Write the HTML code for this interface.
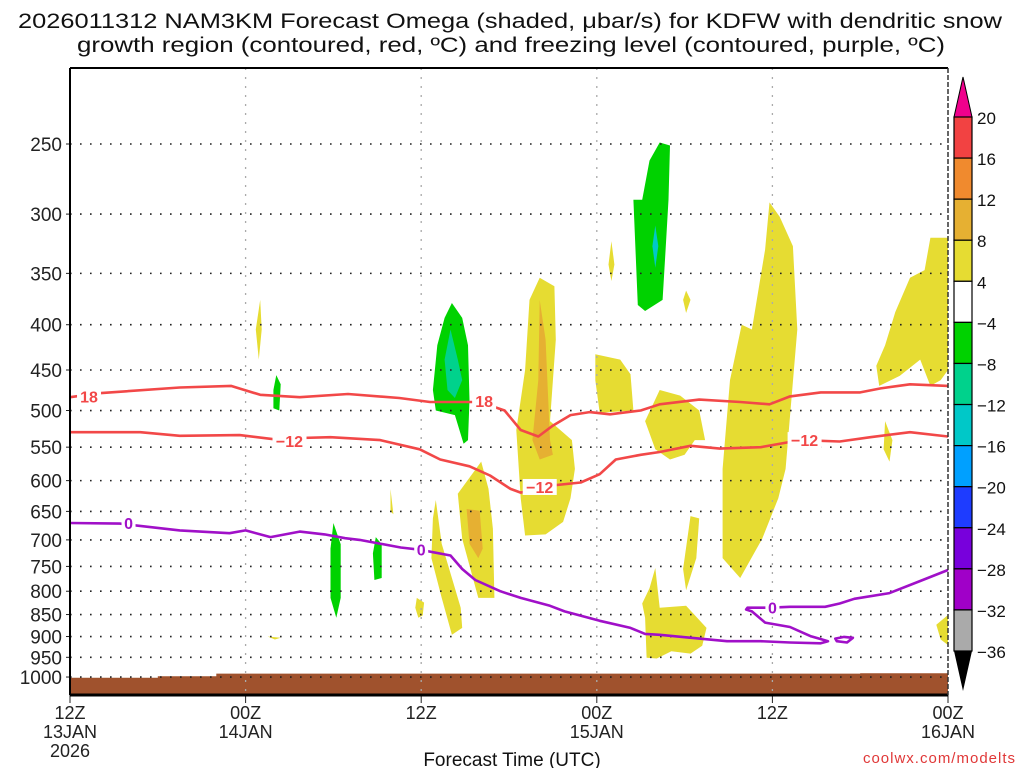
<!DOCTYPE html>
<html><head><meta charset="utf-8"><style>
html,body{margin:0;padding:0;background:#fff;}
svg{display:block;font-family:"Liberation Sans",sans-serif;}
</style></head><body>
<svg id="chart" width="1024" height="768" viewBox="0 0 1024 768" xmlns="http://www.w3.org/2000/svg">
<text x="18" y="28" font-size="21" fill="#111" textLength="984" lengthAdjust="spacingAndGlyphs">2026011312 NAM3KM Forecast Omega (shaded, μbar/s) for KDFW with dendritic snow</text>
<text x="77" y="52" font-size="21" fill="#111" textLength="868" lengthAdjust="spacingAndGlyphs">growth region (contoured, red, ºC) and freezing level (contoured, purple, ºC)</text>
<g id="plot"></g>
<text x="512" y="766" font-size="19" fill="#111" text-anchor="middle">Forecast Time (UTC)</text>
<text x="1016" y="763" font-size="15" fill="#e03838" text-anchor="end" letter-spacing="1">coolwx.com/modelts</text>
<g id="cbar"></g>
</svg>
<script>
// ---- data ----
const pressureTicks=[250,300,350,400,450,500,550,600,650,700,750,800,850,900,950,1000];
const timeTickHours=[0,12,24,36,48,60];
const timeTickLine1=["12Z","00Z","12Z","00Z","12Z","00Z"];
const timeTickLine2=["13JAN","14JAN","","15JAN","","16JAN"];
const timeTickLine3=["2026","","","","",""];
const cbarLevels=[20,16,12,8,4,-4,-8,-12,-16,-20,-24,-28,-32,-36];
const cbarColors=["#f24242","#f08a2e","#e6b032","#e6dc32","#ffffff","#00d200","#00d28c","#00c8c8","#00a0ff","#1e3cff","#7800dc","#a000c8","#aaaaaa"];
const terrainHours=[0,6,6,10,10,54,54,60];
const terrainP=[1002,1002,998,998,991,991,990,990];
const dgz18Hours=[0,2,7.5,11,13,15.7,19,22.5,24.6,28,29.7,30.8,32,33,34.2,35.5,36.9,39,40.3,43,45.8,47.8,49.2,51.3,54,55.4,57.4,60];
const dgz18P=[483,478,471,469,480,483,479,484,489,489,500,526,535,520,506,502,505,500,492,486,489,492,482,477,477,472,467,469];
const dgz12Hours=[0,4.8,7.5,11.6,14.4,15.7,17.8,21.2,23.9,25.3,27.3,28.7,30.1,30.8,32.8,34.9,36.2,37.3,39,40.3,42.4,44.4,47.2,49.9,52.6,54.7,57.4,60];
const dgz12P=[529,529,534,533,540,537,536,540,553,568,578,592,613,619,608,603,590,568,561,557,548,552,550,540,542,536,529,535];
const frzHours=[0,3.4,7.5,10.9,12,13.7,15.7,17.4,18.8,19.8,22.6,23.9,26,26.8,27.7,29.4,30.8,32.8,33.8,36.2,38.3,39.3,40.3,43,44.9,47.2,49.2,51.3,51.8,51.4,50.6,49.2,47.5,46.6,46.2,46.3,47.8,49.2,51.6,52.6,53.6,56,58.1,60];
const frzP=[670,671,683,688,683,695,685,690,697,700,714,718,729,755,777,800,814,831,843,864,880,894,896,905,911,911,914,916,911,907,899,878,868,843,839,835,835,833,833,826,816,804,779,757];
const frzLoopHours=[52.3,52.9,53.5,53.1,52.4];
const frzLoopP=[905,901,903,914,911];
// omega regions: [value-class, hours[], pressures[]]
const omegaRegions=[
 ["pos4",[26.1,26.8,27.2,27.3,27.2,26.9,26.3,25,24.8,25.1,25.6],[378,393,422,486,540,545,506,500,474,422,393],"neg4"],
];
const regionNames=["updraft-12z-14jan","updraft-15jan-upper"];
const negBlobs=[
 {h:[26.1,26.8,27.2,27.3,27.2,26.9,26.3,25,24.8,25.1,25.6],p:[378,393,422,486,540,545,506,500,474,422,393],c:5},
 {h:[26,26.5,26.8,26.3,25.8,25.6],p:[405,438,462,484,474,438],c:6},
 {h:[40.3,41,40.9,40.7,40.5,39.3,38.8,38.5,39.1,39.6],p:[249,251,289,329,375,386,380,289,289,261],c:5},
 {h:[40,40.2,40,39.8],p:[309,326,345,326],c:7},
 {h:[14.1,14.4,14.3,13.9,13.9],p:[456,467,500,497,474],c:5},
 {h:[18,18.5,18.5,18.2,17.8,17.8],p:[670,708,814,857,814,716],c:5},
 {h:[20.9,21.3,21.3,20.8,20.7],p:[695,708,773,777,725],c:5}
];
const posBlobs=[
 {h:[32.1,33.1,33.2,32.8,34.3,34.5,34.2,33.7,32.5,31.1,30.8,30.5,31.1,31.4],p:[354,362,416,514,540,582,628,668,690,692,628,526,450,375],c:3},
 {h:[32.1,32.5,32.8,33,32.1,31.6,32],p:[375,416,540,561,568,540,462],c:2},
 {h:[28.1,28.6,28.9,29,27.9,26.8,26.5],p:[571,613,680,814,814,698,621],c:3},
 {h:[27.1,28,28.2,27.9,27.3],p:[646,649,716,734,707],c:2},
 {h:[25,25.4,26.1,26.7,26.8,26.1,25.4,24.7,24.8],p:[631,707,773,835,880,896,814,734,662],c:3},
 {h:[23.7,24.2,24.1,23.8,23.6],p:[814,824,852,857,835],c:3},
 {h:[35.9,37.6,38.3,38.5,36.2,35.9],p:[432,438,455,500,503,462],c:3},
 {h:[37,37.2,37,36.8],p:[322,342,357,342],c:3},
 {h:[40.3,41.7,43,43.4,42.7,42,41,40,39.3],p:[474,481,500,540,540,561,568,553,514],c:3},
 {h:[42.4,43,42.8,42.1,41.9],p:[658,662,734,798,755],c:3},
 {h:[40,40.3,42.1,43.5,43.2,42.4,41.1,40.1,39.4,39.3,39.1,39.6],p:[753,835,831,880,922,941,935,953,951,857,826,794],c:3},
 {h:[47.8,48.5,49.4,49.7,49.3,48.9,48.4,47.3,45.8,44.6,44.6,45.1,45.9,46.6,47.5],p:[291,302,326,405,486,582,628,698,773,734,582,462,400,405,329],c:3},
 {h:[55.7,56.2,56,55.6],p:[514,540,571,553],c:3},
 {h:[60,58.8,58.4,57.4,56.4,55.7,55.1,55.3,56.7,58.1,58.8,59.5,60],p:[319,319,347,354,387,422,445,469,457,438,469,462,450],c:3},
 {h:[60,59.2,59.5,60],p:[851,873,907,920],c:3},
 {h:[21.9,22.1,21.9],p:[613,655,650],c:3},
 {h:[13,13.1,12.9,12.7],p:[375,405,438,405],c:3},
 {h:[13.5,14.4,14],p:[900,903,907],c:3},
 {h:[42.1,42.4,42.1,41.9],p:[366,375,388,375],c:3}
];
const blobColors=["#f24242","#f08a2e","#e6b032","#e6dc32","#ffffff","#00d200","#00d28c","#00c8c8"];

// ---- axes ----
const X0=70,X1=948,Y0=68,Y1=695;
function xs(h){return X0+h*(X1-X0)/60;}
function ys(p){return 144+384.5*Math.log(p/250);}
const NS="http://www.w3.org/2000/svg";
const plot=document.getElementById('plot');
function mk(tag,attrs,parent){const e=document.createElementNS(NS,tag);for(const k in attrs)e.setAttribute(k,attrs[k]);(parent||plot).appendChild(e);return e;}
function pts(h,p){return h.map((v,i)=>xs(v).toFixed(1)+','+ys(p[i]).toFixed(1)).join(' ');}

// terrain
{
 let d='M'+xs(0)+','+Y1;
 terrainHours.forEach((h,i)=>{d+=' L'+xs(h).toFixed(1)+','+ys(terrainP[i]).toFixed(1);});
 d+=' L'+xs(60)+','+Y1+' Z';
 const t=mk('path',{d:d,fill:'#a0522d'});
 
 
}
// blobs
posBlobs.forEach((b,i)=>{
 const e=mk('polygon',{points:pts(b.h,b.p),fill:blobColors[b.c]});
 
 
});
negBlobs.forEach((b,i)=>{
 const e=mk('polygon',{points:pts(b.h,b.p),fill:blobColors[b.c]});
 
 
});
// grid
pressureTicks.forEach(p=>{
 const y=ys(p);
 const g=mk('line',{x1:X0,x2:X1,y1:y,y2:y,stroke:'#222','stroke-width':1.6,'stroke-dasharray':'1.6 8.4'});
 
 
 const tk=mk('line',{x1:X0-4,x2:X0,y1:y,y2:y,stroke:'#222','stroke-width':1});
 
 
 const lb=mk('text',{x:X0-8,y:y+7,'font-size':19,'text-anchor':'end',fill:'#222'});
 lb.textContent=p;
 
 
});
timeTickHours.forEach((h,i)=>{
 const x=xs(h);
 if(i>0&&i<timeTickHours.length-1){
  const g=mk('line',{x1:x,x2:x,y1:Y0,y2:Y1,stroke:'#aaa','stroke-width':1.3,'stroke-dasharray':'2 7'});
  
  
 }
 const tk=mk('line',{x1:x,x2:x,y1:Y1,y2:Y1+8,stroke:'#222','stroke-width':1});
 
 
 [timeTickLine1[i],timeTickLine2[i],timeTickLine3[i]].forEach((s,j)=>{
  if(!s)return;
  const t=mk('text',{x:x,y:719+j*19,'font-size':18,'text-anchor':'middle',fill:'#222'});
  t.textContent=s;
  
  
 });
});
// contours
function contour(h,p,color,name,closed){
 const e=mk(closed?'polygon':'polyline',{points:pts(h,p),fill:'none',stroke:color,'stroke-width':2.6,'stroke-linejoin':'round'});
 
 
}
contour(dgz18Hours,dgz18P,'#f24848','dgz-minus18-contour');
contour(dgz12Hours,dgz12P,'#f24848','dgz-minus12-contour');
contour(frzHours,frzP,'#a010c8','freezing-level-contour');
contour(frzLoopHours,frzLoopP,'#a010c8','freezing-level-loop',true);
// contour labels
const labelHours=[1.3,28.3,15,32.1,50.2,4,24,48];
const labelP=[482,488,541,610,540,670,718,835];
const labelText=["18","18","-12","-12","-12","0","0","0"];
const labelColor=["#f24848","#f24848","#f24848","#f24848","#f24848","#a010c8","#a010c8","#a010c8"];
labelHours.forEach((h,i)=>{
 const x=xs(h),y=ys(labelP[i]);
 const w=labelText[i].length*10+4;
 const r=mk('rect',{x:x-w/2,y:y-8,width:w,height:16,fill:'#fff'});
 
 
 const t=mk('text',{x:x,y:y+6,'font-size':16,'font-weight':'bold','text-anchor':'middle',fill:labelColor[i]});
 t.textContent=labelText[i].replace('-','−');
 
 
});
// frame
{
 const f1=mk('line',{x1:X0,x2:X1,y1:Y0,y2:Y0,stroke:'#000','stroke-width':2});
 
 
 const f2=mk('line',{x1:X0,x2:X1,y1:Y1,y2:Y1,stroke:'#000','stroke-width':3});
 
 
 const f3=mk('line',{x1:X0,x2:X0,y1:Y0,y2:Y1,stroke:'#000','stroke-width':2});
 
 
 const f4=mk('line',{x1:X1,x2:X1,y1:Y0,y2:Y1,stroke:'#333','stroke-width':1.5,'stroke-dasharray':'5 2'});
 
 
}
// colorbar
const cb=document.getElementById('cbar');
const CX=954,CW=18,CT=117,CB=651;
const step=(CB-CT)/(cbarLevels.length-1);
{
 const up=mk('polygon',{points:`${CX},${CT} ${CX+CW},${CT} ${CX+CW/2},${CT-40}`,fill:'#f0008c',stroke:'#000','stroke-width':1},cb);
 
 
 const dn=mk('polygon',{points:`${CX},${CB} ${CX+CW},${CB} ${CX+CW/2},${CB+40}`,fill:'#000'},cb);
 
 
}
cbarColors.forEach((c,i)=>{
 const r=mk('rect',{x:CX,y:CT+i*step,width:CW,height:step,fill:c,stroke:'#000','stroke-width':1.2},cb);
 
 
});
cbarLevels.forEach((v,i)=>{
 const t=mk('text',{x:CX+CW+5,y:CT+i*step+7,'font-size':17,fill:'#111'},cb);
 t.textContent=v<0?'−'+(-v):String(v);
 
 
});
</script>
</body></html>
